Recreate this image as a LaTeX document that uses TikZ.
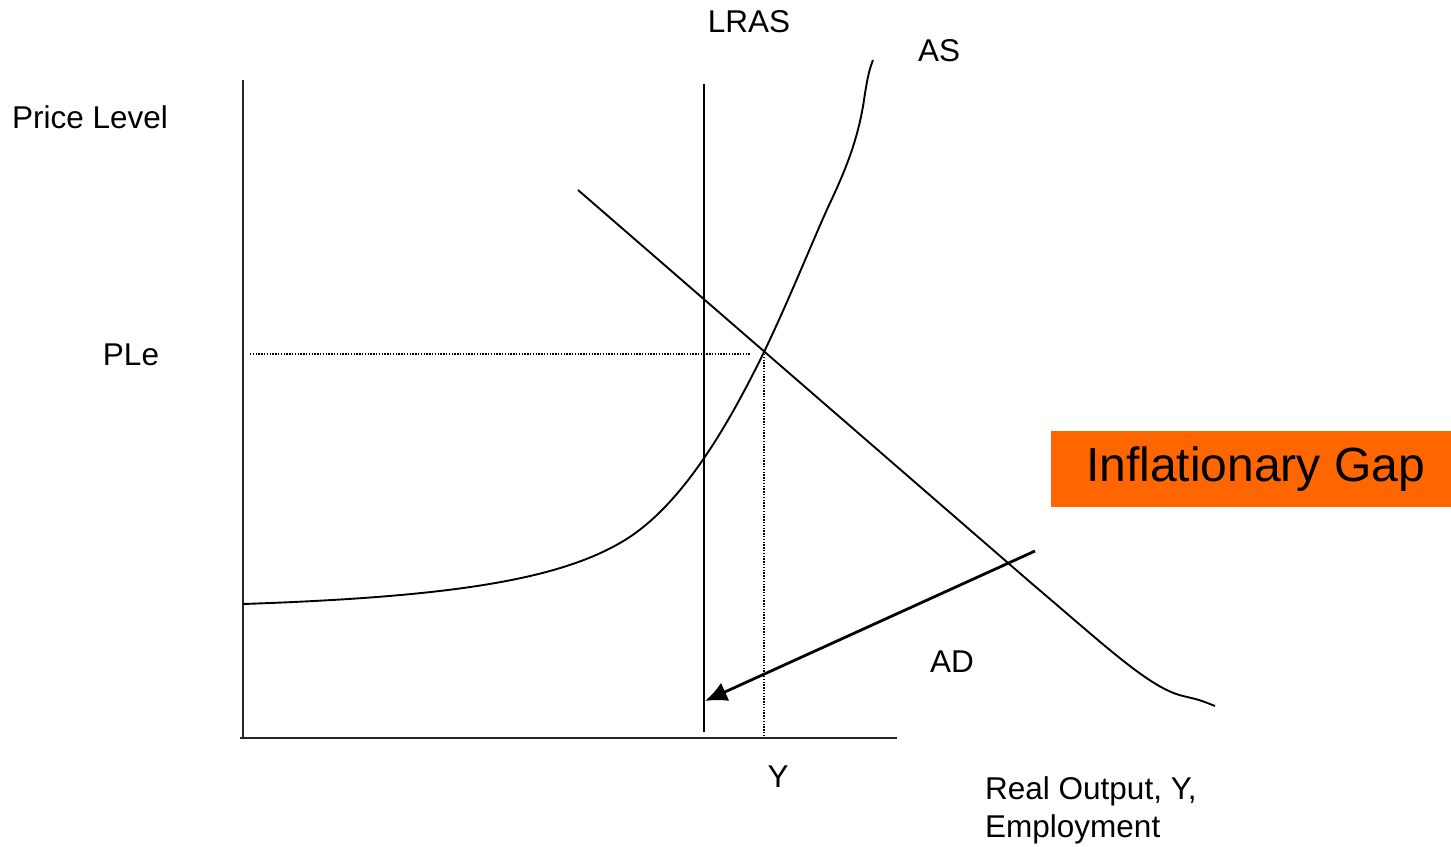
\documentclass[tikz,border=0pt]{standalone}
\usepackage{fontspec}
\setmainfont{Liberation Sans}
\usetikzlibrary{arrows.meta}
\definecolor{gaporange}{HTML}{FF6600}
\begin{document}
\begin{tikzpicture}[x=1pt,y=-1pt,
  curve/.style={line width=1.9pt,black},
  axis/.style={line width=2.1pt,black!85},
  dotline/.style={line width=1.4pt,dash pattern=on 1.4pt off 1.4pt},
  lbl/.style={font=\fontsize{31.5}{38}\selectfont,inner sep=0pt},
  gapbox/.style={fill=gaporange,minimum width=400pt,minimum height=76pt,inner sep=0pt,font=\fontsize{48}{55}\selectfont}]
\useasboundingbox (0,0) rectangle (1451,846);
% axes
\coordinate (ytop) at (243,80);
\coordinate (orig) at (243,738);
\coordinate (xend) at (897,738);
\coordinate (xstart) at (240,738);
\draw[axis] (ytop) -- (orig);
\draw[axis] (xstart) -- (xend);
% LRAS
\coordinate (lrastop) at (704,84);
\coordinate (lrasbot) at (704,732);
\draw[curve] (lrastop) -- (lrasbot);
% dotted guides
\coordinate (dlA) at (250,354);
\coordinate (dlB) at (750,354);
\coordinate (eq) at (764,354);
\coordinate (eqbot) at (764,737);
\draw[dotline] (dlA) -- (dlB);
\draw[dotline] (eq) -- (eqbot);
% AS curve
\coordinate (asstart) at (243,604);
\coordinate (asend) at (873,60);
\draw[curve] (asstart) .. controls (450,597) and (560,580) .. (625,540)
  .. controls (680,506) and (725,432) .. (764,352)
  .. controls (790,298) and (815,235) .. (830,203)
  .. controls (845,171) and (858,140) .. (864,100)
  .. controls (867,80) and (869,70) .. (asend);
% AD curve
\coordinate (adstart) at (578,190);
\coordinate (adkink) at (1030,582);
\coordinate (adend) at (1215,706);
\draw[curve] (adstart) -- (adkink) .. controls (1110,650) and (1150,688) .. (1183,696) .. controls (1200,700) .. (adend);
% arrow
\coordinate (arrA) at (1035,551);
\coordinate (arrB) at (705,701);
\draw[line width=2.8pt,-{Latex[length=22pt,width=20pt]}] (arrA) -- (arrB);
% labels
\node[lbl] (lras) at (749,22) {LRAS};
\node[lbl] (as) at (939,51) {AS};
\node[lbl,anchor=west] (pl) at (12,117) {Price Level};
\node[lbl] (ple) at (131,355) {PLe};
\node[lbl] (y) at (778,777) {Y};
\node[lbl] (ad) at (952,662) {AD};
\node[lbl,anchor=north west,align=left,font=\fontsize{31.5}{38}\selectfont] (ro) at (985,776) {Real Output, Y,\\Employment};
\node[gapbox] (gap) at (1251,469) {\hspace*{9pt}\raisebox{-4pt}{Inflationary Gap}};
\end{tikzpicture}
\end{document}
